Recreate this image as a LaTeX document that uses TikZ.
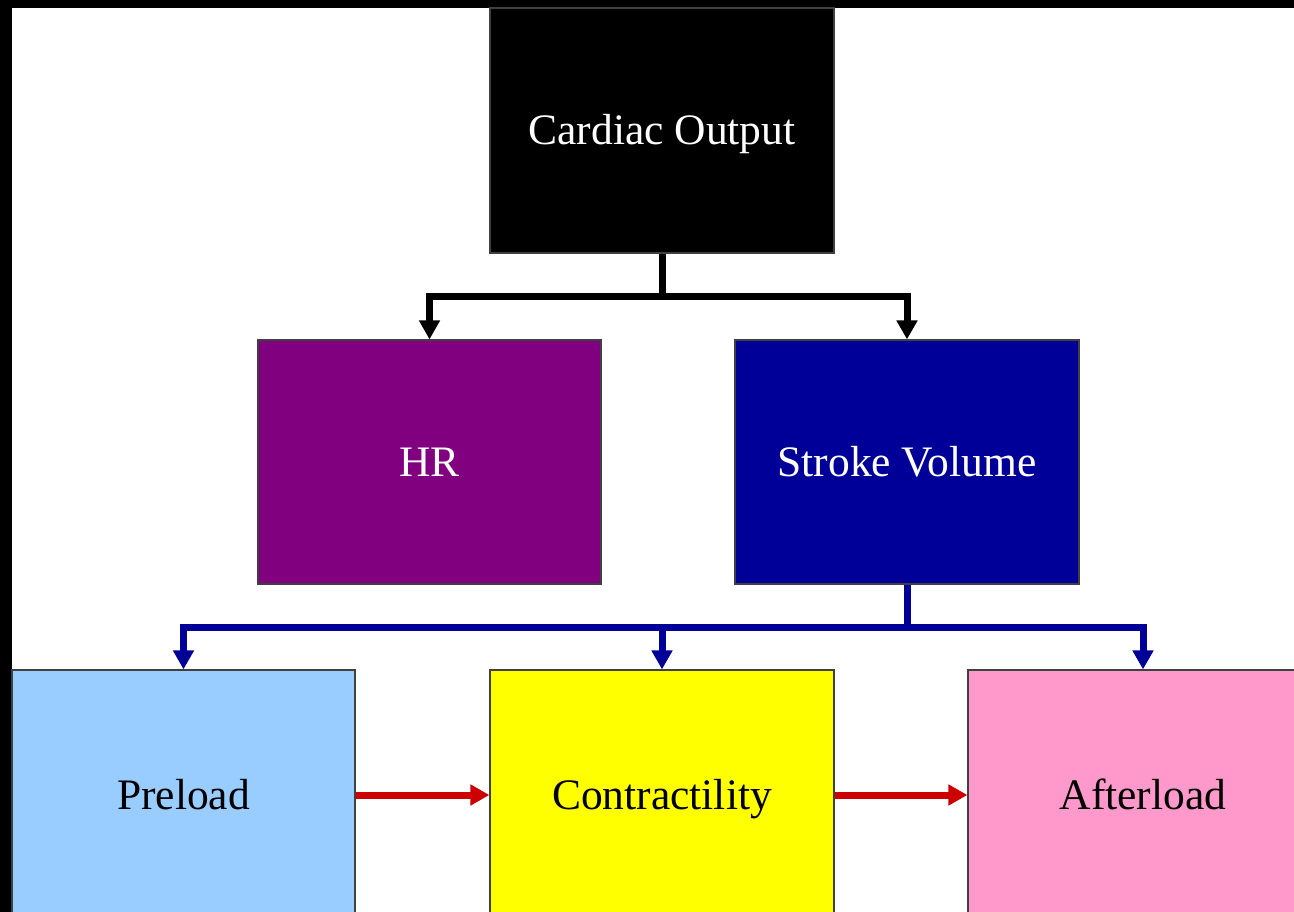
\documentclass[tikz,border=0pt]{standalone}
\usepackage{fontspec}
\setmainfont{Liberation Serif}
\usetikzlibrary{arrows.meta}
\definecolor{cpurple}{HTML}{800080}
\definecolor{cnavy}{HTML}{000099}
\definecolor{clblue}{HTML}{99CCFF}
\definecolor{cyel}{HTML}{FFFF00}
\definecolor{cpink}{HTML}{FF99CC}
\definecolor{cred}{HTML}{CC0000}
\tikzset{
  box/.style={draw=black!75, line width=1.2pt, rectangle, inner sep=0pt,
    font=\fontsize{43.5}{50}\selectfont, text=black, text height=30pt, text depth=2pt},
  conn/.style={line width=7pt, -{Triangle[length=19pt,width=20pt]}},
  blk/.style={conn, draw=black},
  blu/.style={conn, draw=cnavy},
  rd/.style={conn, draw=cred},
}
\begin{document}
\begin{tikzpicture}[x=1pt,y=-1pt]
\useasboundingbox (0,0) rectangle (1294,912);
\clip (0,0) rectangle (1294,912);
\fill[black] (0,0) rectangle (1294,912);
\fill[white] (12,8) rectangle (1300,920);

\node[box, fill=black, text=white, minimum width=344pt, minimum height=245pt] (co) at (662,130.5) {Cardiac Output};
\node[box, fill=cpurple, text=white, minimum width=343pt, minimum height=244pt] (hr) at (429.5,462) {HR};
\node[box, fill=cnavy, text=white, minimum width=344pt, minimum height=244pt] (sv) at (907,462) {Stroke Volume};
\node[box, fill=clblue, minimum width=343pt, minimum height=250pt] (pre) at (183.5,795) {Preload};
\node[box, fill=cyel, minimum width=344pt, minimum height=250pt] (con) at (662,795) {Contractility};
\node[box, fill=cpink, minimum width=350pt, minimum height=250pt] (aft) at (1143,795) {Afterload};

\coordinate (j1) at (662,297);
\coordinate (j2) at (907,627);

\draw[line width=7pt, black] (co.south) -- (j1);
\draw[blk] (j1) -| (hr.north);
\draw[blk] (j1) -| (sv.north);

\draw[line width=7pt, cnavy] (sv.south) -- (j2);
\draw[blu] (j2) -| (pre.north);
\draw[blu] (j2) -| (con.north);
\draw[blu] (j2) -| (aft.north);

\draw[rd] (pre.east) -- (con.west);
\draw[rd] (con.east) -- (aft.west);
\end{tikzpicture}
\end{document}
